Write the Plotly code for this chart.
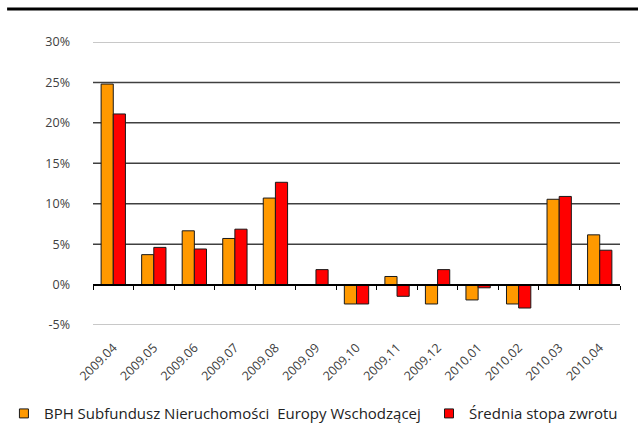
import plotly.graph_objects as go

categories = ["2009.04", "2009.05", "2009.06", "2009.07", "2009.08", "2009.09",
              "2009.10", "2009.11", "2009.12", "2010.01", "2010.02", "2010.03", "2010.04"]
bph_values = [24.8, 3.7, 6.65, 5.7, 10.7, 0.0, -2.4, 1.0, -2.4, -1.9, -2.4, 10.55, 6.15]
avg_values = [21.1, 4.6, 4.4, 6.85, 12.65, 1.85, -2.4, -1.45, 1.85, -0.4, -2.9, 10.9, 4.25]
series_names = ["BPH Subfundusz Nieruchomości  Europy Wschodzącej", "Średnia stopa zwrotu"]
series_colors = ["#FF9900", "#FF0000"]
y_ticks = [-5, 0, 5, 10, 15, 20, 25, 30]
y_labels = [f"{v}%" for v in y_ticks]

font_family = "Open Sans, Liberation Sans, sans-serif"

fig = go.Figure()
for vals, name, col in zip([bph_values, avg_values], series_names, series_colors):
    fig.add_trace(go.Bar(x=categories, y=vals, name=name, showlegend=False,
                         marker=dict(color=col, line=dict(color="#1a1a1a", width=1))))
# legend entries (small square swatches), one legend per series
for i, (name, col) in enumerate(zip(series_names, series_colors)):
    fig.add_trace(go.Scatter(x=[None], y=[None], mode="markers", name=name,
                             legend="legend" if i == 0 else "legend2",
                             marker=dict(symbol="square", size=9, color=col,
                                         line=dict(color="#1a1a1a", width=1))))
# helper trace for the zero-line axis with tick marks
fig.add_trace(go.Scatter(x=categories, y=[0] * len(categories), xaxis="x2", mode="markers",
                         marker=dict(opacity=0), showlegend=False, hoverinfo="skip"))

# gridlines: light at extremes, dark in between
shapes = []
for v in y_ticks:
    if v == 0:
        continue
    light = v in (y_ticks[0], y_ticks[-1])
    shapes.append(dict(type="line", xref="paper", yref="y", x0=0, x1=1, y0=v, y1=v,
                       line=dict(color="#c8c8c8" if light else "#404040", width=2 if light else 1.5),
                       layer="below"))
# top black rule
shapes.append(dict(type="line", xref="paper", yref="paper", x0=-0.163, x1=1.04, y0=1.117, y1=1.117,
                   line=dict(color="black", width=3)))

legend_style = dict(orientation="h", xanchor="left", y=-0.255, yanchor="top",
                    font=dict(size=15, color="#222"), itemwidth=30, bgcolor="rgba(0,0,0,0)")

fig.update_layout(
    width=638, height=424,
    margin=dict(l=93, r=18, t=42, b=99, autoexpand=False),
    paper_bgcolor="white", plot_bgcolor="white",
    barmode="group", bargap=0.4, bargroupgap=0,
    font=dict(family=font_family, color="#404040", size=12),
    shapes=shapes,
    showlegend=True,
    legend=dict(x=-0.169, **legend_style),
    legend2=dict(x=0.6376, **legend_style),
    xaxis=dict(type="category", categoryorder="array", categoryarray=categories,
               range=[-0.5, len(categories) - 0.5],
               tickangle=-45, tickfont=dict(size=12.5, color="#404040"),
               ticklabelstandoff=12,
               showgrid=False, showline=False, ticks="", zeroline=False),
    xaxis2=dict(type="category", categoryorder="array", categoryarray=categories,
                overlaying="x", anchor="free", position=5 / 35, side="bottom",
                range=[-0.5, len(categories) - 0.5],
                showticklabels=False, showgrid=False, showline=True, linecolor="black", linewidth=2,
                ticks="outside", tickson="boundaries", ticklen=4, tickcolor="black", tickwidth=1),
    yaxis=dict(range=[-5, 30], tickvals=y_ticks, ticktext=y_labels, showgrid=False,
               zeroline=False, showline=False, tickfont=dict(size=12.5, color="#404040"),
               ticks="", ticklabelstandoff=22),
)

fig.write_html("out.html", config={"displayModeBar": False},
               post_script="document.body.style.margin='0';")
